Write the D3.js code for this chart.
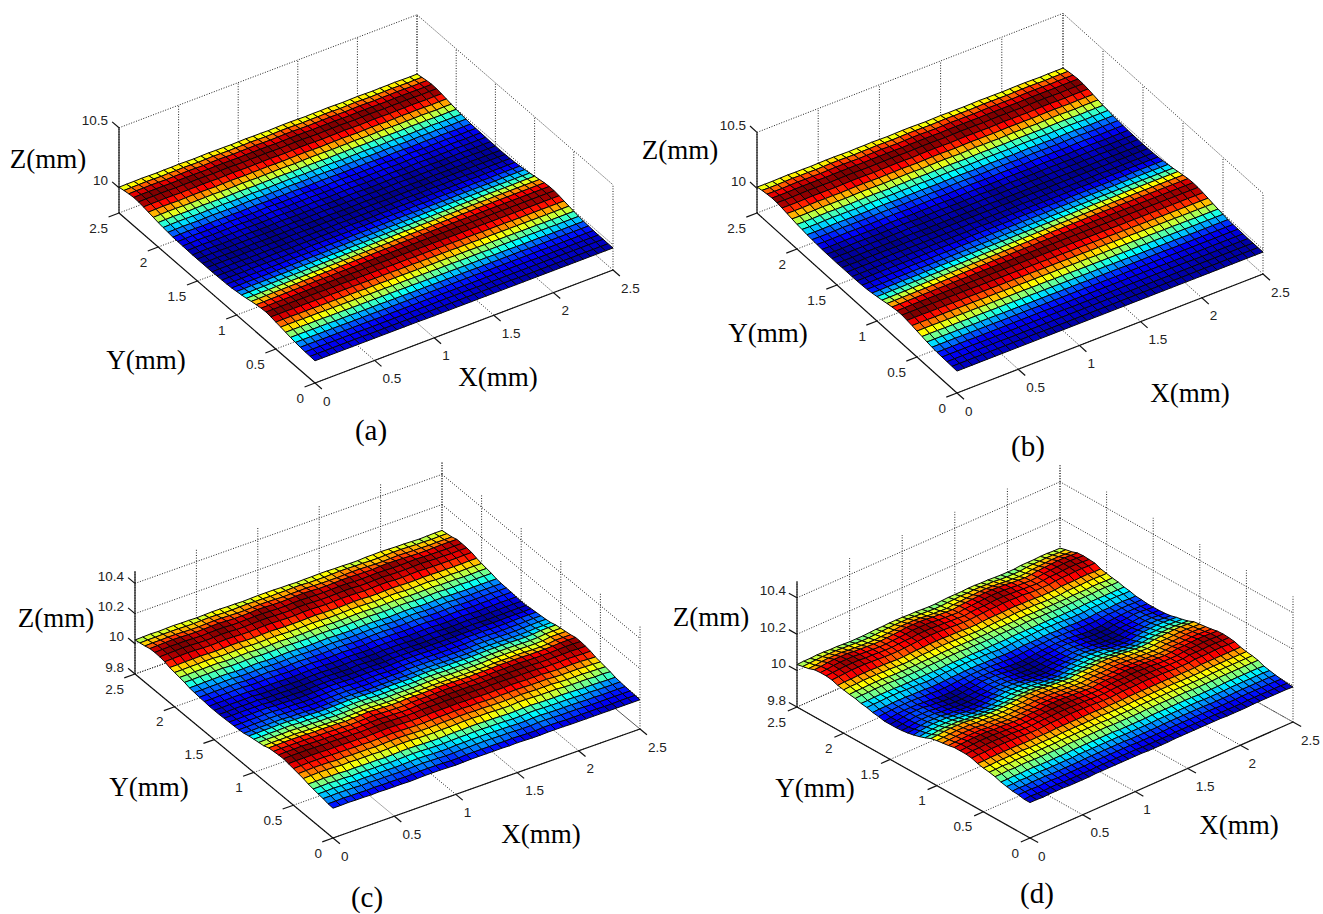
<!DOCTYPE html>
<html><head><meta charset="utf-8">
<style>html,body{margin:0;background:#fff}svg{display:block}</style>
<script src="https://cdn.jsdelivr.net/npm/d3@7"></script>
</head><body><svg id="c" width="1323" height="914"></svg>
<script>
// ---------- values ----------
const mmTicks = [0, 0.5, 1, 1.5, 2, 2.5];
const mmTickLabels = ["0", "0.5", "1", "1.5", "2", "2.5"];
const zTicksAB = [10, 10.5];
const zTicksCD = [9.8, 10, 10.2, 10.4];
const zTickLabelsAB = ["10", "10.5"];
const zTickLabelsCD = ["9.8", "10", "10.2", "10.4"];

// surface heights as jet level 0-z (0 to 35). First row is Y = 2.5, last row Y = 0; columns X = 0 to 2.5.
const levelRange = [0, 35];
const zRangeA = [9.972, 10.027];
const zRangeB = [9.974, 10.034];
const zRangeC = [9.99, 10.055];
const zRangeD = [9.99, 10.07];
const colorDomainD = [9.99, 10.072];
const levelsA = [
"lmmnm lmmnm lmnmm lmnmm lmnnm lmmnm lmnml mmnml m",
"qrrsr qrrsr qrsrq rrsrq rssrq rrsrq rsrqr rsrqr r",
"vwwxw vwwxw vwxwv wwxwv wxxwv wwxwv wxwvw wxwvw w",
"yzzzz yzzzy yzzzy zzzzy yzzzy zzzyy zzzyy zzzyy z",
"xyyzy xyyzy xyzyx yyzyx yzzyx yyzyx yzyxy yzyxy y",
"tuuvu tuuvu tuvut uuvut uvvut uuvut uvutu uvutu u",
"opqpo pqqpo pqpop pqpop qqpop pqpop qpopq pqpop p",
"jkllk jkklk jklkj kklkj kllkj kklkj klkjk klkjk k",
"efgfe fgffe fgfef fgfef ggfef fgfef gfefg fgfef f",
"abccb abbcb abcba bbcba bccba bbcba bcbab bcbab b",
"78987 89887 89878 89878 99878 89878 98789 89878 8",
"45654 56554 56545 56545 66545 56545 65456 56545 5",
"34543 44543 34543 44543 45543 44543 45434 45434 4",
"23432 33432 23432 33432 34432 33432 34323 34323 3",
"12321 22321 12321 22321 23321 22321 23212 23212 2",
"01210 11210 01210 11210 12210 11210 12101 12101 1",
"01110 11110 01110 11210 11110 11210 11101 11101 1",
"00100 00100 00110 00100 01100 00100 01000 01000 0",
"01110 11110 01110 11110 11110 11110 11111 11111 1",
"01111 11110 11111 11211 11111 22112 21222 12222 2",
"11122 11222 12222 22332 22333 33333 43344 34444 4",
"22223 33323 33444 44454 55555 56556 66667 66777 7",
"33344 44455 55566 66777 77888 88999 9aaaa aabbb b",
"55666 67778 88899 9aaaa bbbcc cddde eeeef fffff f",
"99aaa bbbcc cdddd eeeff fgggh hhiii jjjkk kkkll l",
"ddeef fgggh hiiij jjkkl lmmmn nnooo ppppq qqqqq q",
"iijjk klllm mnnoo ppqqq rrsss tttuu uvvvv vvvvv v",
"oopqq rrsst ttuuv vvwww xxxyy yyyyy yyyyy yyyyy y",
"ttuuv vwwxx xyyyy zzzzz zzzzz zzzyy yyyyy yyyyy y",
"xxyyy zzzzz zzzyy yyxxx xxwww wvvvv vuuuu uuuuu u",
"zzzzz yyyxx xwwwv vvuuu tttss srrrq qqqpp ppppp p",
"wwwvv vuuut ttssr rrqqq ppooo nnnmm mllll kkkkk k",
"rrrqq qpppo oonnn mmmll lkkkj jjiii hhhgg gffff f",
"nnnmm mlllk kkjjj iiihh hgggf fffee edddc ccbbb b",
"iiihh hgggf fffee eddcc cbbba aaa99 98888 77777 7",
"dddcc cbbba aaa99 98888 77777 66666 66555 55555 5",
"99988 88777 77666 66655 55555 44444 44443 33333 3",
"66655 55555 44444 44444 33333 33333 33222 22222 2",
"44444 44433 33333 33333 33322 22222 22222 22222 2",
"33333 33322 22222 22222 22222 22211 11111 11111 1",
"22222 22222 22222 11111 11111 11111 11111 11111 1"
];
const levelsB = [
"mllmn mmlmn nmlmm nmlmn nmlmn mmlmn mmlmn nmlmm m",
"srrst ssrst tsrss tsrst tsrst ssrst ssrst tsrss s",
"wvvwx wwvwx xwvww xwvwx xwvwx wwvwx wwvwx xwvww w",
"zyyzz zzyzz zzyzz zzyzz zzyzz zzyzz zzyzz zzyzz z",
"yxxyz yyxyz zyxyy zyxyz zyxyz yyxyz yyxyz zyxyy y",
"uttuv uutuv vutuu vutuv vutuv uutuv uutuv vutuu u",
"poopq ppopq qpopp qpopq qpopq ppopq ppopq qpopp p",
"kjjkl kkjkl lkjkk lkjkl lkjkl kkjkl kkjkl lkjkk k",
"feefg ffefg gfeff gfefg gfefg ffefg ffefg gfeff f",
"cbbcd ccbcd dcbcc dcbcd dcbcd ccbcd ccbcd dcbcc c",
"87789 88789 98788 98789 98789 88789 88789 98788 8",
"65567 66567 76566 76567 76567 66567 66567 76566 6",
"43345 44345 54344 54345 54345 44345 44345 54344 4",
"21123 22123 32122 32123 32123 22123 22123 32122 2",
"10012 11012 21011 21012 21012 11012 11012 21011 1",
"11011 11011 21011 11011 21011 11011 11011 21011 1",
"00001 00001 10000 00001 10000 00001 00001 10000 0",
"11011 11011 11011 11111 11011 11011 11111 11011 1",
"11111 12111 11111 12111 11121 11211 11121 11211 2",
"11112 21222 22222 23322 33333 33334 43444 44444 4",
"22233 33334 44444 55555 56666 66677 77777 78888 8",
"33444 45555 66677 77888 89999 aaaab bbbbc ccccc c",
"55566 67778 88999 aaabb bcccd ddeee ffffg ggggg g",
"99aab bbccd ddeef ffggh hhiij jjkkl lllmm mmmmm m",
"eeffg gghhi iijjk kkllm mnnoo oppqq qrrrr rrrrr r",
"jjkkl lmmnn ooppq qrrss ttuuv vvwww wwwww wwwww w",
"ppqqr rsstt uuvvw wwxxx yyyyy yyyyy yyyyy yyyyy y",
"uuvvw wxxyy yzzzz zzzzz zyyyy yyyxx xxxxx xxxxx x",
"yyzzz zzzzz yyyyx xxxww wvvvv uuuut ttttt ttttt t",
"zzzzy yyxxx wwwvv vuuut ttsss rrrqq qpppo ooooo o",
"vvvuu uttts ssrrr qqqpp pooon nnmmm lllkk kjjjj j",
"rrrqq qpppo oonnn mmmll lkkkj jjiih hhggg ffeee e",
"mmmll lkkkj jjiii hhhgg gfffe eeddd cccbb baaaa a",
"hhhgg gfffe eeddd cccbb baaaa 99988 87777 66666 6",
"cccbb baaaa 99988 88777 76666 65555 55444 44444 4",
"88887 77776 66665 55555 54444 44444 44333 33333 3",
"55555 44444 44444 33333 33333 33333 22222 22222 2",
"44444 33333 33333 33222 22222 22222 22211 11111 1",
"33333 33322 22222 22222 22211 11111 11111 11111 1",
"22222 22222 22111 11111 11111 11111 11111 11111 1",
"11111 11111 11111 11111 11111 11111 11111 11111 1"
];
const levelsC = [
"jkllk lmmll kllmm lllkl mmnml lkkll mmlll kklmm nmlll kjjkl l",
"nooop pppoo pqqpo opqqp poopp qqpoo oppqq ppooo pqqqp oonno o",
"rssst tssrr sttts rrsst tsrrs sttsr rrsst tsrrr sttsr rqqrr r",
"uvwww vvuuv wwvuu uvwwv uuuvw wvuuu vwwvu uuvww vuuut ttuuu u",
"wxyyz yxwwx yzyxw wxyzy xwwxy zyxww xyzyx wwxyz yxwwv vwwxx x",
"xyzzz zyxxy zzyxx yzzzy xxyzz yxxxy zzyxx yzzyx xyzzy xxwwx x",
"wxyyz yxwwx yyxww xyyyx wwxyy xwwwx yyxww xyyxw wxyyx wwvvw w",
"tuvvw vuttu vvutt uvvvu ttuvv uttuv vuttu vvutt uvvut ttttu u",
"qrrss srqqr ssrqq rssrq qrssr qqqrs srqqr ssrqq rssrq qqqqr r",
"nnooo ponno ppnnn oppon nnoop onnno ppnnn oppon nopon nnnno o",
"kkkll mmlkk lmlkk lmmlk klmml kkklm mlkkl mmlkk lmlkk kjjkk k",
"hhhii jjihh ijihh ijjih hijji hhhij jihhi jjihh ijihh hgggh h",
"eefff ggfee fgfee fggfe efggf eeefg gfeef ggfee fgfee edeee e",
"bbbcc ddcbb cdcbb cddcb bcddc bbbcd dcbbc ddcbb cdcbb babbb b",
"99aaa bba99 aba99 abba9 9abba 999ab ba99a bba99 aba99 89999 9",
"77788 99877 89877 89987 78998 77789 98778 99877 89877 67777 7",
"55666 77655 67655 67765 56776 55567 76556 77655 67655 56666 6",
"44455 66544 55443 45554 34554 33455 54434 55433 45543 44555 5",
"33344 55433 43332 34443 23443 22344 43323 44322 34432 33444 4",
"23334 44322 22111 23332 12332 11233 32212 33211 23321 22333 3",
"22233 34311 11000 12321 01221 00122 21101 22100 12210 11222 2",
"22233 34311 10000 12321 00121 00122 21100 11000 12210 11222 2",
"33344 44322 11001 23432 11222 11233 33322 22223 33443 34444 5",
"33444 55433 21112 34543 22333 22344 44433 33334 45544 45556 6",
"44555 66544 32223 45654 33444 33455 55544 44446 56655 56677 7",
"55666 77655 43334 56765 44555 44566 66655 55557 77866 77889 9",
"66777 88766 54445 67876 55666 66788 88877 77779 99a88 89aab b",
"88999 aa988 76667 89a98 77888 8899a aa999 999ab bbcaa abbdd e",
"aabbb ccbaa 98889 abcba 99aaa abbcc cbbbb bbbcd ddedc cddgg h",
"ddeee ffedd cbbbc defed ccddd ddeef feeee eeefg gghgf fgjjk k",
"gghhh iihgg feeef ghihg ffggg gghii ihhhh hhhij jjkji ijmmn n",
"jkkkk lkjjj iihhi jklkj iijjj jkkll lkkkk kklmm mmnml lmpqq q",
"mnnnn onmmm llkkl mnonm llmmm mnnoo onnnn nnopp pqqpo opstt t",
"pqqqq rqppp oonno pqrqp ooppp pqqrr rqqqq qqrss sttsr rsvww w",
"ttuuu utsst ssqqs tvuts rrttt tuuvv uuttu uvwww wwwvv vwxyy y",
"vwwww wwvvv uuttu vxwvu ttvvw wxxyy xxwwx xyyyz zyyxx xyyzz y",
"xyyyz yxxxx wwvvw xyyxw vvxxy yzzzz zzyyy zzzzy yyxww wwxxw w",
"yzzzz zyyyy xxwwx yzzyx wwyyy yzzzy yyxxy yyyxx xwvuu uvvut t",
"xyyyy yxwxx wwvvw xyyxw vvxxx xxyyx xwwvw wxxwv vvuts ssttr q",
"vwwww wvuvv uuttu vwwvu ttuuv vvwwv vuutu uvvut ttsrq qqrqo n",
"sttuu utrss rrqqr sttsr qqrrs sttts srrqr rsrrq qqpon nnoml k",
"pqrrr qoppo oonno pqqpo nnoop pqqqp poonn opoon nnmlk kklji h",
"mnooo nlmml llkkl mnnml kklll mnnnm mllkk mmllk kkjih hhifg e",
"kkllk kijji iihhi jkkji hhiii jkkkj jiihh jjiih hhgfe eedcb b",
"hhiih hfggf fffef ghhgf eeffg ghhhg gfeee ggffe eeddc bbba9 9",
"eeffe ecddc cccbc deedc bbccd deeed dcbbb ddccb bbaa9 98877 7",
"bbccb b9aa9 99989 abba9 889aa bbbba a9888 aa998 88776 65555 5",
"99aa9 97887 77767 89987 66788 99998 87666 88776 66554 44444 4",
"77887 75665 55545 67765 44566 77776 65444 66554 44433 33333 3",
"55665 54554 44434 55554 33455 55554 54333 55443 33333 22333 3",
"44554 43443 33323 44443 23344 44443 43222 33332 22222 22222 2"
];
const levelsD = [
"jkkkl lkkkj iiiij kkkll lkkkj iiijk kklll kkkji iijkk klllk k",
"mnoop ppoon mlllm noopp poonm lllmn ooppp oonml llmno opppo o",
"pqrst ttsrq ponop qrstt tsrqp onopq rsttt srqpo nopqr sttts r",
"stuvw wwvut srqrs tuvww wvuts rqrst uvwww vutsr qrstu vwwwv u",
"uvwxy yyxwv utstu vwxyy yxwvu tstuv wxyyy xwvut stuvw xyyyx w",
"vwxyz zzyxw vutuv wxyzz zyxwv utuvw xyzzz yxwvu tuvwx yzzzy x",
"vwwxy yyxww vutuv wwxyy yxwwv utuvw wxyyy xwwvu tuvww xyyyx w",
"tuvvw wwvvu tssst uvvww wvvut ssstu vvwww vvuts sstuv vwwwv v",
"rssst ttsss rqqqr ssstt tsssr qqqrs ssttt sssrq qqrss stttt s",
"opppq qqppp onnno pppqq qpppo nnnop ppqqq pppon nnopp pqqqp p",
"lmmmn nnmmm lkkkl mmmnn nmmml kkklm mmnnn mmmlk kklmm mnnnm m",
"ijjjk kkjji iiiij jjjkk kjjji iiijj jjkkk jjjii iijjj jkkkj j",
"ghhhi iihhg ggggh hhhii ihhhg ggghh hhiii hhhgg gghhh hiiih h",
"eefff fffee eeeee effff ffeee eeeef fffff ffeee eeeff fffff f",
"ccddd dddcc ccccc cdddd ddccc ccccd ddddd ddccc cccdd ddddd d",
"abbbc ccbbb a999a bbbcc cbbba 999ab bbccc bbba9 99abb bcccb b",
"67778 88777 65556 77788 87776 55567 77888 77765 55677 78887 7",
"45667 77665 43334 56677 76654 33345 66777 66543 33456 67776 6",
"23345 55433 21012 33455 54332 10123 34555 43321 01233 45554 3",
"13456 66543 10001 34566 65431 00013 45666 54310 00134 56665 4",
"13457 77543 10001 34577 75431 00013 45777 54310 00134 57775 4",
"13457 77543 10001 34577 75431 00013 45777 54310 00134 57775 4",
"23568 88654 21012 45688 86542 10124 56888 65421 01245 68886 5",
"24679 99765 32123 56799 97653 21235 67999 76532 12356 79997 6",
"4678a aa876 43234 678aa a8764 32346 78aaa 87643 23467 8aaa8 7",
"7abcd ddcba 76567 abcdd dcba7 65679 bcddd cba76 5679b cdddc b",
"bdefg ggfed ba9ab defgg gfedb a9abd efggg fedba 9abde fgggf e",
"ghijk kkjih gfefg hijkk kjihg fefgh ijkkk jihgf efghi jkkkj i",
"jklmn nnmlk jihij klmnn nmlkj ihijk lmnnn mlkji hijkl mnnnm l",
"mnopq qqpon mlklm nopqq qponm lklmn opqqq ponml klmno pqqqp o",
"pqqrs ssrqq ponop qqrss srqqp onopq qrsss rqqpo nopqq rsssr q",
"rsstu uutss rqpqr sstuu utssr qpqrs stuuu tssrq pqrss tuuut s",
"tuuvw wwvuu tsrst uuvww wvuut srstu uvwww vuuts rstuu vwwwv u",
"uvwxy yyxwv utstu vwxyy yxwvu tstuv wxyyy xwvut stuvw xyyyx w",
"wxxyz zzyxx wvuvw xxyzz zyxxw vuvwx xyzzz yxxwv uvwxx yzzzy x",
"wxyyz zzyyx wvvvw xyyzz zyyxw vvvwx yyzzz yyxwv vvwxy yzzzy y",
"wxxxy yyxxx wvvvw xxxyy yxxxw vvvwx xxyyy xxxwv vvwxx xyyyx x",
"uvvvw wwvvv utttu vvvww wvvvu tttuv vvwww vvvut ttuvv vwwwv v",
"sssst ttssr rrrrs ssstt tsssr rrrss stttt ssrrr rrsss ttttt s",
"ppqqq qqqqp ppppp qqqqq qqqqp ppppq qqqqq qqqpp pppqq qqqqq q",
"mmnnn nnnnm mmmmm nnnnn nnnnm mmmmn nnnnn nnnmm mmmnn nnnnn n",
"kkllk lllkk kkkkl lllll lllkk kkkkl lllll lllkk kkkll lllll l",
"hhiih iiihh hhhhi iiiii iiihh hhhhi iiiii iiihh hhhii iiiii i",
"eeffe fffee eeeef fffff fffee eeeef fffff fffee eeeff fffff f",
"ccddc dddcc ccccd ddddd dddcc ccccd ddddd dddcc cccdd ddddd c",
"99aa9 aaa99 9999a aaaaa aaa99 9999a aaaaa aaa99 999aa aaaaa 9",
"67767 77666 66667 77777 77666 66667 77777 77666 66677 77777 6",
"55454 55444 44445 55555 55444 44445 55555 55444 44455 55555 4",
"34333 44333 33334 44444 44333 33334 44444 44333 33344 44444 3",
"23222 33222 22223 33333 33222 22223 33333 33222 22233 33333 2",
"22112 22111 11122 22222 22111 11122 22222 22111 11222 22222 1"
];
const jetStops = [0, 0.125, 0.375, 0.625, 0.875, 1];
const jetColors = ["#00008f", "#0000ff", "#00ffff", "#ffff00", "#ff0000", "#800000"];
const panelNames = ["(a)", "(b)", "(c)", "(d)"];

// ---------- lookups ----------
const meshNodes = 41;      // nodes drawn along each side of the mesh, as in the reference
const nodeToMm = d3.scaleLinear().domain([0, meshNodes - 1]).range([0, 2.5]);
function gridFromLevels(rows, zRange) {
  const clean = rows.map(r => r.replace(/ /g, ""));
  const n = clean.length;
  const toMm = d3.scaleLinear().domain(levelRange).range(zRange);
  const entry = k => Math.round(k * (n - 1) / (meshNodes - 1));
  return (a, b) => {
    const r = clean[n - 1 - entry(b)];
    const ch = r[Math.min(entry(a), r.length - 1)];
    return toMm(parseInt(ch, 36));
  };
}

// ---------- panel layout ----------
const panels = [
 {name:panelNames[0], origin:[315,383], xVec:[298,-113], yVec:[-196,-170], zPx:120, zFloor:9.79, zTop:10.5,
  zTicks:zTicksAB, zLabels:zTickLabelsAB, colorDomain:zRangeA, z:gridFromLevels(levelsA,zRangeA),
  lab:{Z:[48,159],Y:[146,360],X:[498,377],P:[371,430]}},
 {name:panelNames[1], origin:[957,393], xVec:[306,-119], yVec:[-200,-180], zPx:112, zFloor:9.78, zTop:10.5,
  zTicks:zTicksAB, zLabels:zTickLabelsAB, colorDomain:zRangeB, z:gridFromLevels(levelsB,zRangeB),
  lab:{Z:[680,150],Y:[768,333],X:[1190,393],P:[1028,446]}},
 {name:panelNames[2], origin:[333,838], xVec:[307,-109], yVec:[-198,-164], zPx:151, zFloor:9.8, zTop:10.48,
  zTicks:zTicksCD, zLabels:zTickLabelsCD, colorDomain:zRangeC, z:gridFromLevels(levelsC,zRangeC),
  lab:{Z:[56,618],Y:[149,787],X:[541,834],P:[367,897]}},
 {name:panelNames[3], origin:[1030,838], xVec:[263,-116], yVec:[-233,-131], zPx:182, zFloor:9.8, zTop:10.49,
  zTicks:zTicksCD, zLabels:zTickLabelsCD, colorDomain:colorDomainD, z:gridFromLevels(levelsD,zRangeD),
  lab:{Z:[711,617],Y:[815,788],X:[1239,825],P:[1037,893]}}
];

const svg = d3.select("#c");
const lineGen = d3.line();
const jet = d3.scaleLinear().domain(jetStops).range(jetColors).clamp(true);
const TICK = 0.035;

panels.forEach(p => {
  const g = svg.append("g");
  const mm = d3.scaleLinear().domain([0,2.5]).range([0,1]);
  const zY = d3.scaleLinear().domain([p.zFloor,p.zFloor+1]).range([0,-p.zPx]);
  const colorT = d3.scaleLinear().domain(p.colorDomain).range([0,1]);
  const proj = (x,y,z) => [
    p.origin[0] + mm(x)*p.xVec[0] + mm(y)*p.yVec[0],
    p.origin[1] + mm(x)*p.xVec[1] + mm(y)*p.yVec[1] + zY(z)
  ];
  const seg = (a,b,cls) => g.append("path").attr("d",lineGen([a,b])).attr("class",cls)
     .attr("fill","none")
     .attr("stroke", cls==="grid" ? "#222" : "#111")
     .attr("stroke-width", cls==="grid" ? 1 : 1.2)
     .attr("stroke-dasharray", cls==="grid" ? "1 1.6" : null);

  const f = p.zFloor, top = p.zTop;
  mmTicks.forEach(t => {
    seg(proj(t,0,f), proj(t,2.5,f), "grid");
    seg(proj(0,t,f), proj(2.5,t,f), "grid");
    seg(proj(t,2.5,f), proj(t,2.5,top), "grid");
    seg(proj(2.5,t,f), proj(2.5,t,top), "grid");
  });
  p.zTicks.forEach(z => {
    seg(proj(0,2.5,z), proj(2.5,2.5,z), "grid");
    seg(proj(2.5,2.5,z), proj(2.5,0,z), "grid");
  });

  // surface, far cells first
  const cells = [];
  for (let b = meshNodes-2; b >= 0; b--) for (let a = meshNodes-2; a >= 0; a--) cells.push([a,b]);
  g.append("g").selectAll("path").data(cells).join("path")
    .attr("d", ([a,b]) => {
      const P = (u,v) => proj(nodeToMm(u), nodeToMm(v), p.z(u,v));
      return lineGen([P(a,b),P(a+1,b),P(a+1,b+1),P(a,b+1)]) + "Z";
    })
    .attr("fill", ([a,b]) => jet(colorT((p.z(a,b+1)+p.z(a+1,b+1))/2)))
    .attr("stroke", "#050505").attr("stroke-width", 1).attr("stroke-linejoin","round");

  seg(proj(0,0,f), proj(2.5,0,f), "axis");
  seg(proj(0,0,f), proj(0,2.5,f), "axis");
  seg(proj(0,2.5,f), proj(0,2.5,top), "axis");

  const tickText = (pos,txt,anchor) => g.append("text").attr("x",pos[0]).attr("y",pos[1])
    .attr("text-anchor",anchor).attr("dominant-baseline","central")
    .attr("font-family","'Liberation Sans',Arial,sans-serif").attr("font-size",13.5).attr("fill","#222").text(txt);

  mmTicks.forEach((t,k) => {
    const a = proj(t,0,f), b = [a[0]-p.yVec[0]*TICK, a[1]-p.yVec[1]*TICK];
    seg(a,b,"axis");
    tickText([a[0]+8,a[1]+18], mmTickLabels[k], "start");
    const c = proj(0,t,f), d = [c[0]-p.xVec[0]*TICK, c[1]-p.xVec[1]*TICK];
    seg(c,d,"axis");
    tickText([c[0]-11,c[1]+15], mmTickLabels[k], "end");
  });
  p.zTicks.forEach((z,k) => {
    const a = proj(0,2.5,z), b = [a[0]+p.yVec[0]*TICK, a[1]+p.yVec[1]*TICK];
    seg(a,b,"axis");
    tickText([a[0]-11,a[1]-7], p.zLabels[k], "end");
  });

  const title = (pos,txt,size) => g.append("text").attr("x",pos[0]).attr("y",pos[1])
    .attr("text-anchor","middle").attr("dominant-baseline","central")
    .attr("font-family","'Liberation Serif','Times New Roman',serif").attr("font-size",size).attr("fill","#000").text(txt);
  title(p.lab.Z,"Z(mm)",27);
  title(p.lab.Y,"Y(mm)",27);
  title(p.lab.X,"X(mm)",27);
  title(p.lab.P,p.name,29);
});
</script></body></html>
